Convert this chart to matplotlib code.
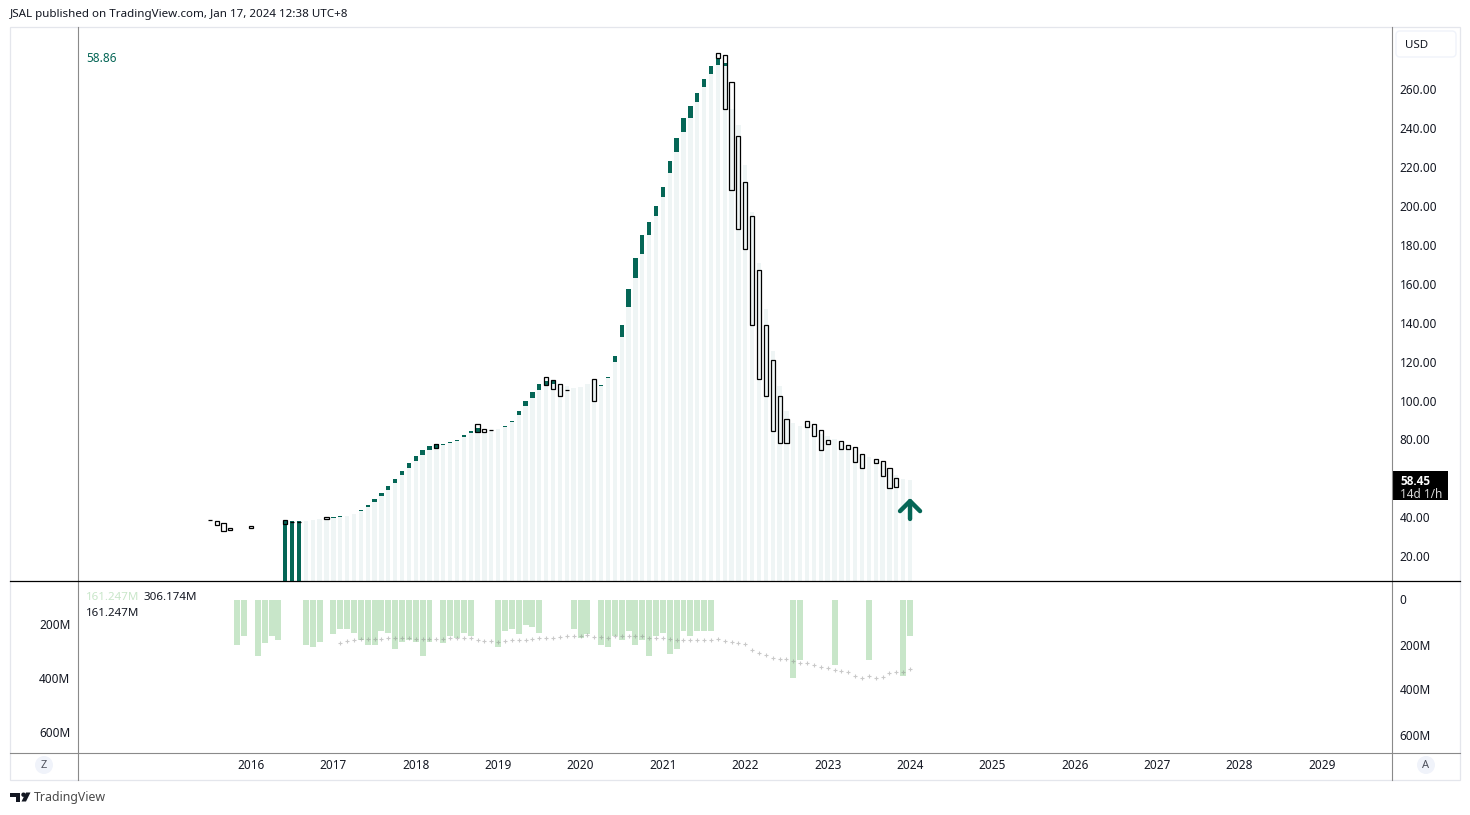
import matplotlib
matplotlib.use("Agg")
import matplotlib.pyplot as plt
from matplotlib.patches import Rectangle, Polygon, Circle, FancyBboxPatch

plt.rcParams['font.family'] = ['Noto Sans', 'DejaVu Sans']

# month index, 0 is Jan 2016
pale_idx = list(range(5, 97))
pale_tops = [38.05, 38.05, 38.05, 38.05, 38.56, 39.07, 39.6, 39.6, 40.1, 40.6, 41.6, 43.2, 45.2, 47.8, 50.9,
             54.0, 57.6, 61.7, 65.3, 68.9, 72.0, 74.5, 75.6, 77.1, 78.1, 79.2, 81.2, 83.3, 83.6, 83.6,
             84.7, 85.3, 86.4, 88.9, 92.5, 97.2, 101.3, 105.4, 108.0, 108.7, 107, 107.5, 106.4, 106.9, 108.5,
             110.5, 107.5, 111.6, 119.8, 132.6, 148.1, 163, 175.5, 185.1, 194.9, 204.6, 217, 227.8, 238, 245.2,
             253.5, 261.2, 267.9, 272.5, 272, 250, 241.6, 221, 197, 170.7, 147, 125.5, 107.5, 94.6, 88.4,
             86.9, 88, 86.5, 83, 81.7, 80.2, 78, 76.6, 74.5, 72, 71, 69.4, 67.7, 64.3, 61.7, 59.6, 59.1]

green_idx = [12, 13, 16, 17, 18, 19, 20, 21, 22, 23, 24, 25, 26, 27, 28, 29, 30, 31, 32, 33,
             37, 38, 39, 40, 41, 42, 43, 44, 51, 52, 53, 54, 55, 56, 57, 58, 59, 60, 61, 62, 63, 64, 65, 66, 67, 68, 69]
green_tops = [40.1, 40.6, 43.7, 46.3, 49.4, 52.4, 56, 59.6, 63.8, 67.9, 71.5, 74.5, 76.6, 77.6, 77.6, 78.7, 79.7, 82.3, 84.3, 85.7,
              86.9, 89.5, 94.6, 99.7, 104.4, 108.5, 110, 110, 107.8, 112.1, 122.9, 138.8, 157.3, 173.3, 185.1, 191.8, 200, 209.8,
              223.1, 235, 245.2, 251.4, 258.1, 265.3, 272, 275.6, 273.5]

candle_idx = [-6, -5, -4, -3, 0, 5, 6, 7, 11, 27, 33, 34, 35, 43, 44, 45, 46, 50,
              68, 69, 70, 71, 72, 73, 74, 75, 76, 77, 78, 81, 82, 83, 84, 86, 87, 88, 89, 91, 92, 93, 94]
candle_hi = [38.4, 38.2, 37.2, 34.6, 35.3, 38.4, 37.4, 37.4, 40.1, 77.5, 87.7, 85.6, 84.7, 111.9, 110.4, 108.3, 105.2, 110.9,
             278.8, 277.5, 263.6, 235.8, 212.2, 194.7, 166.9, 138.6, 120.7, 102.1, 90.3, 89.3, 87.7, 84.7, 79.5, 79, 76.9, 75.9, 72.3, 69.8, 68.7, 65.1, 60]
candle_lo = [38.4, 35.8, 32.7, 33.2, 34.3, 36.7, 37.4, 37.4, 39.2, 75.8, 83.6, 83.6, 84.7, 108.1, 106.1, 102.5, 105.2, 99.9,
             275.9, 249.7, 208, 188, 177.7, 138.6, 110.9, 102.1, 84.1, 78, 78, 86.2, 81.6, 74.4, 77.5, 74.9, 74.9, 68.2, 65.1, 68, 61, 54.8, 55.4]

vol_idx = [-2, -1, 1, 2, 3, 4, 8, 9, 10, 12, 13, 14, 15, 16, 17, 18, 19, 20, 21, 22, 23, 24, 25, 26,
           28, 29, 30, 31, 32, 36, 37, 38, 39, 40, 41, 42, 47, 48, 49,
           51, 52, 53, 54, 55, 56, 57, 58, 59, 60, 61, 62, 63, 64, 65, 66, 67, 79, 80, 85, 90, 95, 96]
vol_vals = [204, 164, 253, 195, 160, 182, 200, 209, 191, 155.5, 133, 133, 147, 178, 200, 204, 142, 147, 222, 191, 178, 187, 253, 187,
            195, 164, 173, 147, 160, 209, 138, 133, 155.5, 115.5, 120, 147, 133, 169, 155.5,
            204, 213, 164, 182, 142, 200, 178, 249, 164, 151, 240, 218, 138, 160, 138, 138, 142, 347, 271, 293, 271, 342, 161.2]

ma_idx = list(range(13, 97))
ma_vals = [192.5, 183.6, 179, 174.8, 174.8, 174.8, 174.8, 170.3, 170.3, 170.3, 170.3, 174.8, 174.8, 174.8, 174.8, 174.8,
           170, 170, 170, 170, 179, 184, 184, 188, 184, 179, 179, 179, 175, 170, 170, 170, 166, 161, 161, 161, 157, 166, 166, 170,
           161, 161, 161, 161, 161, 170, 170, 170, 175, 179, 179, 179, 179, 179, 179, 175, 184, 188, 193, 197, 224, 237, 246, 259,
           264, 264, 272.5, 281, 281, 290, 299, 304, 312.5, 317, 321, 339, 348, 339, 348, 344, 326, 321, 321, 308]

price_ticks = [20, 40, 80, 100, 120, 140, 160, 180, 200, 220, 240, 260]
vol_ticks_right = [0, 200, 400, 600]
vol_ticks_left = [200, 400, 600]
years = list(range(2016, 2030))

GREEN = '#056656'
PALE = '#eff5f5'
VOL = '#c8e6c9'
TXT = '#131722'
EDGE = '#e4e6ec'
AXLINE = '#8a8a8a'

W, H = 1470, 815
fig = plt.figure(figsize=(W / 100, H / 100), dpi=100, facecolor='white')


def pane(x0, y0, x1, y1):
    return fig.add_axes([x0 / W, 1 - y1 / H, (x1 - x0) / W, (y1 - y0) / H])


xlim = ((78 - 251) / 6.865, (1392 - 251) / 6.865)

# price pane
ax = pane(78, 27, 1392, 581)
ax.set_xlim(xlim)
ax.set_ylim((595 - 581) / 1.945, (595 - 27) / 1.945)
pale_colors = [GREEN if i < 8 else PALE for i in pale_idx]
ax.bar(pale_idx, pale_tops, width=0.63, color=pale_colors, linewidth=0, zorder=1)
tops_by_idx = dict(zip(pale_idx, pale_tops))
green_bottoms = [tops_by_idx[i] for i in green_idx]
ax.bar(green_idx, [t - b for t, b in zip(green_tops, green_bottoms)], bottom=green_bottoms,
       width=0.63, color=GREEN, linewidth=0, zorder=2)
ax.bar(candle_idx, [h - l for h, l in zip(candle_hi, candle_lo)], bottom=candle_lo, width=0.6,
       fill=False, edgecolor='black', linewidth=0.9, zorder=3)
ax.annotate('', xy=(96, 49.9), xytext=(96, 39.1),
            arrowprops=dict(arrowstyle='->,head_length=0.36,head_width=0.36', color=GREEN, lw=3.2,
                            mutation_scale=20, shrinkA=0, shrinkB=0), zorder=4)
ax.yaxis.tick_right()
ax.set_yticks(price_ticks)
ax.set_yticklabels([f'{v:.2f}' for v in price_ticks], fontsize=8.5, color=TXT)
ax.tick_params(axis='y', length=0, pad=5.5)
ax.set_xticks([])

# volume pane, inverted, bars use the right scale
axv = pane(78, 581, 1392, 752)
axl = axv.twinx()
axv.set_xlim(xlim)
axv.set_ylim((752 - 599.5) / 0.225, (581 - 599.5) / 0.225)
axv.bar(vol_idx, vol_vals, width=0.87, color=VOL, linewidth=0, zorder=1)
axv.plot(ma_idx, ma_vals, linestyle='none', marker='+', markersize=3, markeredgewidth=0.8,
         color='#808080', alpha=0.42, zorder=2)
axv.yaxis.tick_right()
axv.set_yticks(vol_ticks_right)
axv.set_yticklabels(['0' if v == 0 else f'{v}M' for v in vol_ticks_right], fontsize=8.5, color=TXT)
axv.tick_params(axis='y', length=0, pad=5.5)
axv.set_xticks([(y - 2016) * 12 for y in years])
axv.set_xticklabels(years, fontsize=8.5, color=TXT)
axv.tick_params(axis='x', length=0, pad=5)

axl.set_ylim((752 - 570) / 0.27, (581 - 570) / 0.27)
axl.yaxis.tick_left()
axl.set_yticks(vol_ticks_left)
axl.set_yticklabels([f'{v}M' for v in vol_ticks_left], fontsize=8.5, color=TXT)
axl.tick_params(axis='y', length=0, pad=5.5)

for a in (ax, axv, axl):
    for s in a.spines.values():
        s.set_visible(False)

# frame, labels and logo in pixel coordinates
ov = fig.add_axes([0, 0, 1, 1], zorder=10)
ov.set_xlim(0, W)
ov.set_ylim(H, 0)
ov.axis('off')
ov.add_patch(Rectangle((10, 27), 1450, 753, fill=False, edgecolor=EDGE, linewidth=0.9))
ov.plot([78, 78], [27, 780], color=AXLINE, lw=0.8)
ov.plot([1392, 1392], [27, 780], color=AXLINE, lw=0.8)
ov.plot([10, 1460], [581, 581], color='black', lw=0.9)
ov.plot([10, 1460], [752.5, 752.5], color=AXLINE, lw=0.8)

ov.text(10, 14.5, 'JSAL published on TradingView.com, Jan 17, 2024 12:38 UTC+8', fontsize=8.35, color=TXT, va='center')
ov.text(86, 59, '58.86', fontsize=8.5, color=GREEN, va='center')
ov.text(86, 597.5, '161.247M', fontsize=8.3, color=VOL, va='center')
ov.text(144, 597.5, '306.174M', fontsize=8.3, color=TXT, va='center')
ov.text(86, 614, '161.247M', fontsize=8.3, color=TXT, va='center')

ov.add_patch(FancyBboxPatch((1396, 31), 60, 26, boxstyle='round,pad=0,rounding_size=4',
                            fill=False, edgecolor='#f0f3fa', linewidth=1))
ov.text(1405, 45, 'USD', fontsize=8.3, color=TXT, va='center')

ov.add_patch(Rectangle((1392, 470.5), 56, 29, color='black', linewidth=0))
ov.text(1400, 481.5, '58.45', fontsize=8.5, color='white', va='center', fontweight='bold', family='Open Sans')
ov.text(1400, 494, '14d 1/h', fontsize=8.5, color='#d8d8d8', va='center')

ov.add_patch(Circle((44, 765), 9, color='#f0f3fa', linewidth=0))
ov.text(44, 765, 'Z', fontsize=8, color='#50535e', ha='center', va='center')
ov.add_patch(Circle((1426, 765), 9, color='#f0f3fa', linewidth=0))
ov.text(1426, 765, 'A', fontsize=8, color='#50535e', ha='center', va='center')

ov.add_patch(Polygon([(10, 792.5), (20.5, 792.5), (20.5, 801.5), (16, 801.5), (16, 797), (10, 797)], color='#131722', linewidth=0))
ov.add_patch(Circle((23.5, 794.7), 2.2, color='#131722', linewidth=0))
ov.add_patch(Polygon([(26, 792.5), (30.5, 792.5), (26, 801.5), (21.5, 801.5)], color='#131722', linewidth=0))
ov.text(33.5, 797.5, 'TradingView', fontsize=8.9, color='#4a4a4a', va='center')

fig.savefig('out.png', dpi=100)
